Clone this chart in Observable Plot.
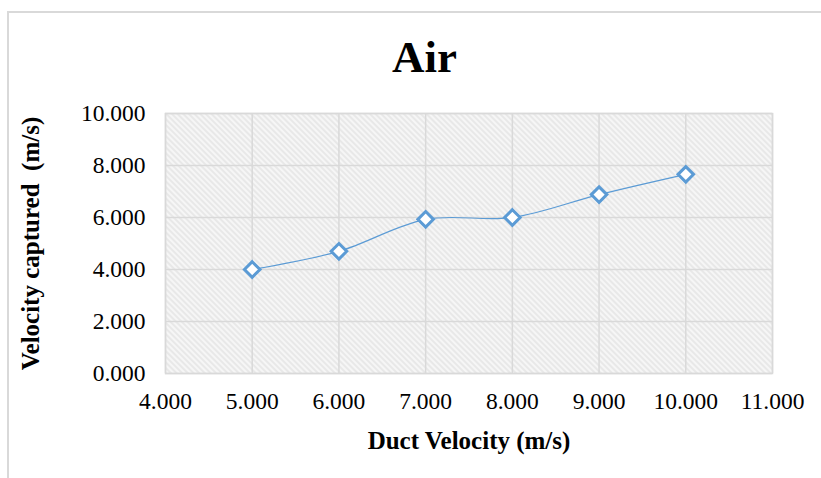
<!DOCTYPE html>
<html>
<head>
<meta charset="utf-8">
<script src="https://cdn.jsdelivr.net/npm/d3@7"></script>
<script src="https://cdn.jsdelivr.net/npm/@observablehq/plot@0.6"></script>
<style>
  html, body { margin: 0; padding: 0; background: #fff; }
  #wrap { position: relative; width: 821px; height: 478px; overflow: hidden; }
  #border { position: absolute; left: 7px; top: 11px; width: 1000px; height: 1000px;
            border-left: 2px solid #d9d9d9; border-top: 2px solid #d9d9d9; }
  #chart { position: absolute; left: 0; top: 0; }
</style>
</head>
<body>
<div id="wrap"><div id="border"></div><div id="chart"></div></div>
<script>
const ductVelocity = [5, 6, 7, 8, 9, 10];
const velocityCaptured = [4.0, 4.7, 5.93, 6.0, 6.88, 7.66];
const xTicks = [4, 5, 6, 7, 8, 9, 10, 11];
const yTicks = [0, 2, 4, 6, 8, 10];
const title = "Air";
const xLabel = "Duct Velocity (m/s)";
const yLabel = "Velocity captured  (m/s)";

const data = ductVelocity.map((x, i) => ({x, y: velocityCaptured[i]}));
const fmt = d3.format(".3f");
const blue = "#5b9bd5";
const grid = "#d9d9d9";

const chart = Plot.plot({
  width: 821,
  height: 478,
  marginLeft: 165,
  marginRight: 49,
  marginTop: 113,
  marginBottom: 105,
  style: {fontFamily: "'Liberation Serif', 'Times New Roman', serif", fontSize: "23px", color: "#000", background: "transparent", overflow: "visible"},
  x: {domain: [4, 11]},
  y: {domain: [0, 10]},
  marks: [
    Plot.frame({fill: "url(#hatch)", stroke: null}),
    Plot.gridX(xTicks, {stroke: grid, strokeOpacity: 1, strokeWidth: 1.5}),
    Plot.gridY(yTicks, {stroke: grid, strokeOpacity: 1, strokeWidth: 1.5}),
    Plot.frame({stroke: grid, strokeWidth: 1.5}),
    Plot.axisX({ticks: xTicks, tickFormat: fmt, tickSize: 0, tickPadding: 19, label: null, fontSize: 23.5}),
    Plot.axisY({ticks: yTicks, tickFormat: fmt, tickSize: 0, tickPadding: 20, label: null, fontSize: 23.5}),
    Plot.line(data, {x: "x", y: "y", stroke: blue, strokeWidth: 1.2, curve: "catmull-rom"}),
    Plot.dot(data, {x: "x", y: "y", symbol: "diamond2", r: 7, stroke: blue, strokeWidth: 3, fill: "white"}),
    Plot.text([xLabel], {text: d => d, frameAnchor: "bottom", textAnchor: "middle", lineAnchor: "middle", dy: 67, fontWeight: "bold", fontSize: 25}),
    Plot.text([yLabel], {text: d => d, frameAnchor: "left", textAnchor: "middle", lineAnchor: "middle", dx: -135, rotate: -90, fontWeight: "bold", fontSize: 25}),
    Plot.text([title], {text: d => d, frameAnchor: "top-left", textAnchor: "middle", lineAnchor: "middle", dx: 424 - 165, dy: -56, fontWeight: "bold", fontSize: 45})
  ]
});

const ns = "http://www.w3.org/2000/svg";
const defs = document.createElementNS(ns, "defs");
defs.innerHTML = `<pattern id="hatch" patternUnits="userSpaceOnUse" width="4" height="4" patternTransform="rotate(-45)">
  <rect width="4" height="4" fill="#f6f6f6"></rect>
  <line x1="1" y1="0" x2="1" y2="4" stroke="#e2e2e2" stroke-width="1.4"></line>
</pattern>`;
chart.insertBefore(defs, chart.firstChild);
document.getElementById("chart").appendChild(chart);
</script>
</body>
</html>
